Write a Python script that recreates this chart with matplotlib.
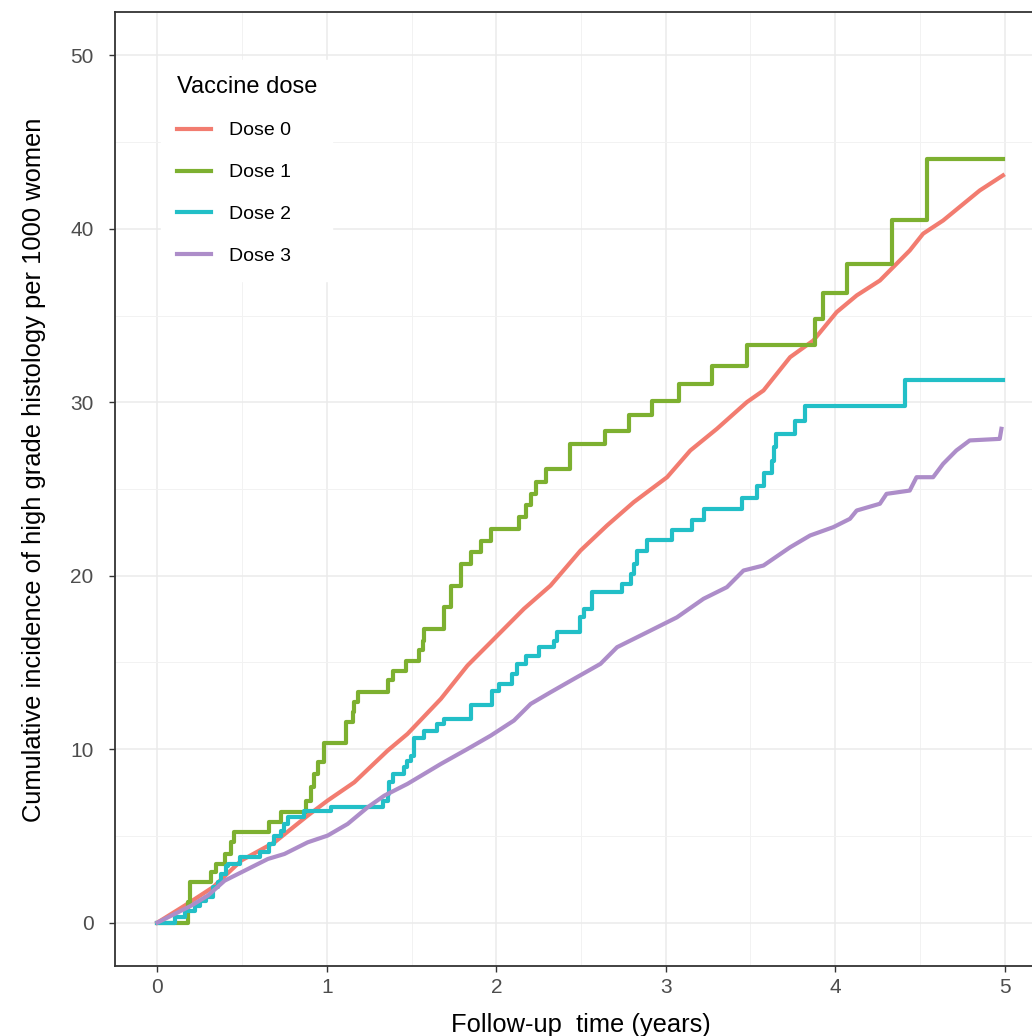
import matplotlib
matplotlib.use("Agg")
import matplotlib.pyplot as plt
from matplotlib.ticker import MultipleLocator
from matplotlib.lines import Line2D

plt.rcParams["font.family"] = ["Liberation Sans", "DejaVu Sans"]

# Dose 0: near-continuous curve (read points)
d0_t = [0.0, 0.161, 0.328, 0.495, 0.691, 0.887, 1.005, 1.162, 1.359, 1.476, 1.673, 1.830,
        1.987, 2.163, 2.320, 2.497, 2.654, 2.811, 3.008, 3.145, 3.302, 3.479, 3.577, 3.734,
        3.871, 4.009, 4.127, 4.264, 4.440, 4.519, 4.637, 4.853, 4.990]
d0_y = [0.0, 0.98, 2.04, 3.58, 4.63, 6.17, 7.04, 8.09, 9.92, 10.88, 12.90, 14.82,
        16.36, 18.09, 19.43, 21.45, 22.90, 24.24, 25.68, 27.22, 28.47, 30.01, 30.68, 32.60,
        33.56, 35.20, 36.16, 37.02, 38.75, 39.72, 40.48, 42.21, 43.08]

# Dose 1: step function (event times, level after)
d1_t = [0.0, 0.18, 0.19, 0.318, 0.347, 0.397, 0.436, 0.455, 0.661, 0.730, 0.877, 0.907,
        0.927, 0.946, 0.985, 1.113, 1.152, 1.162, 1.182, 1.359, 1.388, 1.466, 1.545, 1.565,
        1.574, 1.692, 1.731, 1.790, 1.849, 1.908, 1.967, 2.134, 2.173, 2.203, 2.232, 2.291,
        2.438, 2.644, 2.782, 2.919, 3.076, 3.272, 3.479, 3.881, 3.930, 4.068, 4.338, 4.539,
        4.99]
d1_y = [0.0, 1.2, 2.33, 2.9, 3.38, 3.96, 4.63, 5.21, 5.78, 6.36, 7.04, 7.80,
        8.58, 9.25, 10.36, 11.55, 12.13, 12.70, 13.28, 13.96, 14.53, 15.11, 15.69, 16.26,
        16.94, 18.18, 19.43, 20.68, 21.36, 22.03, 22.70, 23.37, 24.05, 24.72, 25.39, 26.16,
        27.61, 28.37, 29.24, 30.10, 31.07, 32.12, 33.31, 34.81, 36.30, 37.98, 40.48, 44.0,
        44.0]

# Dose 2: step function
d2_t = [0.0, 0.102, 0.161, 0.220, 0.249, 0.289, 0.328, 0.357, 0.377, 0.406, 0.416, 0.485,
        0.603, 0.661, 0.691, 0.730, 0.750, 0.770, 0.868, 1.025, 1.329, 1.359, 1.368, 1.388,
        1.457, 1.476, 1.496, 1.515, 1.574, 1.653, 1.692, 1.849, 1.977, 2.016, 2.095, 2.124,
        2.173, 2.252, 2.340, 2.360, 2.497, 2.517, 2.566, 2.743, 2.795, 2.811, 2.831, 2.890,
        3.037, 3.155, 3.227, 3.449, 3.538, 3.577, 3.626, 3.640, 3.651, 3.763, 3.822, 4.411,
        4.99]
d2_y = [0.0, 0.31, 0.69, 0.98, 1.27, 1.50, 2.04, 2.33, 2.81, 3.29, 3.38, 3.77,
        4.05, 4.54, 5.02, 5.31, 5.69, 6.07, 6.46, 6.69, 7.04, 7.42, 8.09, 8.58,
        8.96, 9.34, 9.63, 10.65, 11.02, 11.46, 11.75, 12.57, 13.38, 13.76, 14.34, 14.92,
        15.40, 15.88, 16.26, 16.74, 17.61, 18.09, 19.05, 19.53, 20.11, 20.68, 21.45, 22.05,
        22.61, 23.20, 23.83, 24.49, 25.20, 25.91, 26.64, 27.41, 28.18, 28.91, 29.76, 31.30,
        31.30]

# Dose 3: near-continuous curve
d3_t = [0.0, 0.102, 0.200, 0.298, 0.397, 0.495, 0.652, 0.750, 0.887, 1.005, 1.123, 1.241,
        1.339, 1.476, 1.673, 1.830, 1.967, 2.104, 2.203, 2.320, 2.458, 2.615, 2.713, 2.890,
        3.066, 3.223, 3.361, 3.459, 3.577, 3.734, 3.852, 3.989, 4.087, 4.127, 4.264, 4.303,
        4.440, 4.480, 4.578, 4.637, 4.715, 4.794, 4.971, 4.981]
d3_y = [0.0, 0.50, 0.98, 1.56, 2.42, 2.90, 3.67, 3.96, 4.63, 5.02, 5.69, 6.65,
        7.32, 8.00, 9.15, 10.01, 10.78, 11.65, 12.61, 13.28, 14.05, 14.92, 15.88, 16.74,
        17.60, 18.67, 19.34, 20.30, 20.59, 21.64, 22.32, 22.80, 23.28, 23.76, 24.15, 24.72,
        24.91, 25.68, 25.68, 26.45, 27.22, 27.80, 27.89, 28.47]

labels = ["Dose 0", "Dose 1", "Dose 2", "Dose 3"]
colors = ["#F27C70", "#7DB030", "#22BFC7", "#AD8DC9"]

fig = plt.figure(figsize=(10.32, 10.36), dpi=100)
W, H = 1032, 1036
left, right, top, bottom = 115, 1047, 12, 966
ax = fig.add_axes([left / W, 1 - bottom / H, (right - left) / W, (bottom - top) / H])

ax.plot(d0_t, d0_y, color=colors[0], lw=3.0, solid_joinstyle="round", zorder=3)
ax.step(d1_t, d1_y, where="post", color=colors[1], lw=3.0, zorder=3)
ax.step(d2_t, d2_y, where="post", color=colors[2], lw=3.0, zorder=3)
ax.plot(d3_t, d3_y, color=colors[3], lw=3.0, solid_joinstyle="round", zorder=3)

ax.set_xlim(-0.25, 5.25)
ax.set_ylim(-2.5, 52.5)
ax.xaxis.set_major_locator(MultipleLocator(1))
ax.xaxis.set_minor_locator(MultipleLocator(0.5))
ax.yaxis.set_major_locator(MultipleLocator(10))
ax.yaxis.set_minor_locator(MultipleLocator(5))
ax.grid(which="major", color="#EBEBEB", lw=1.1, zorder=0)
ax.grid(which="minor", color="#F2F2F2", lw=0.7, zorder=0)
ax.tick_params(which="minor", length=0)
ax.tick_params(which="major", length=4.5, width=1, color="#333333",
               labelcolor="#4D4D4D", labelsize=15)
ax.tick_params(axis="x", pad=4)
ax.tick_params(axis="y", pad=11)
for s in ax.spines.values():
    s.set_color("#333333")
    s.set_linewidth(1.3)
ax.set_axisbelow(True)

ax.set_xlabel("Follow-up  time (years)", fontsize=18.4, color="black")
ax.xaxis.set_label_coords(0.5, -0.049)
ax.set_ylabel("Cumulative incidence of high grade histology per 1000 women",
              fontsize=18.4, color="black")
ax.yaxis.set_label_coords(-0.074, 0.52)

handles = [Line2D([0], [0], color=c, lw=3) for c in colors]
leg = ax.legend(handles, labels, title="Vaccine dose", loc="upper left",
                bbox_to_anchor=((161 - left) / (right - left), 1 - (60 - top) / (bottom - top)),
                frameon=True, fancybox=False, framealpha=1, edgecolor="white",
                fontsize=14, title_fontsize=17, handlelength=1.75, handletextpad=0.93,
                labelspacing=1.25, borderpad=0.8, borderaxespad=0)
leg._legend_box.align = "left"

fig.savefig("out.png", dpi=100)
